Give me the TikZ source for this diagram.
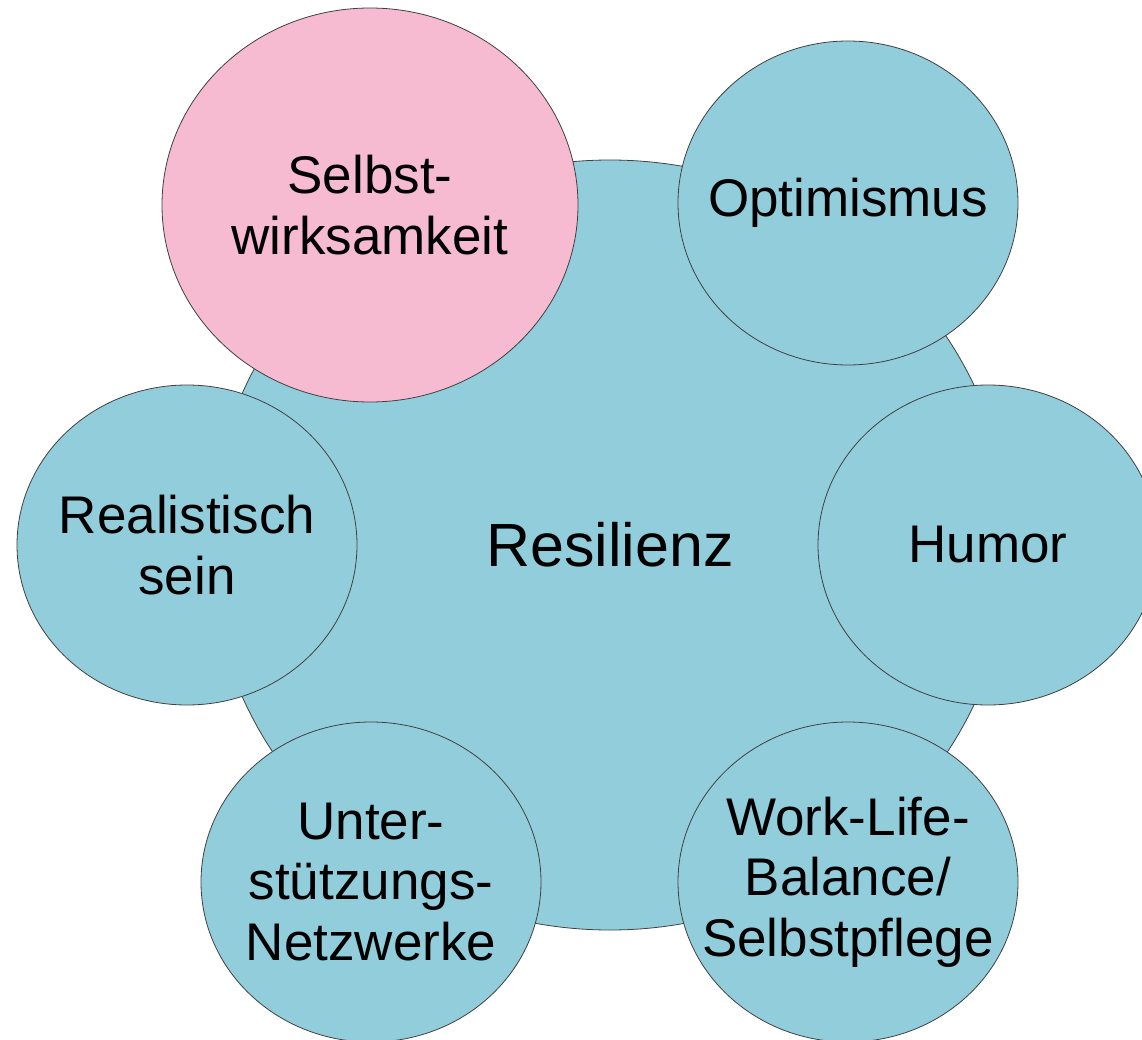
\documentclass[tikz,border=0pt]{standalone}
\usepackage{fontspec}
\setmainfont{Liberation Sans}
\usetikzlibrary{shapes.geometric}
\definecolor{resblue}{RGB}{146,205,220}
\definecolor{respink}{RGB}{246,187,209}
\tikzset{
  factor/.style={ellipse, draw=black!75, line width=0.8pt, fill=resblue, inner sep=0pt},
  factortext/.style={align=center, inner sep=0pt, font=\fontsize{53}{60.5}\selectfont},
}
\begin{document}
\begin{tikzpicture}[x=1pt,y=-1pt]
    \clip (0,0) rectangle (1142,1040);
    % centre
    \node[factor, minimum width=800pt, minimum height=770pt] (res) at (610,545) {};
    \node[factortext, font=\fontsize{61}{70}\selectfont] (res-t) at (res) {Resilienz};
    % factors around it
    \node[factor, fill=respink, minimum width=416pt, minimum height=394pt] (selbst) at (370,205) {};
    \node[factortext] (selbst-t) at (selbst) {Selbst-\\wirksamkeit};
    \node[factor, minimum width=340pt, minimum height=324pt] (optim) at (848,203) {};
    \node[factortext] (optim-t) at (optim) {Optimismus};
    \node[factor, minimum width=340pt, minimum height=320pt] (real) at (187,545) {};
    \node[factortext] (real-t) at (real) {Realistisch\\sein};
    \node[factor, minimum width=340pt, minimum height=320pt] (humor) at (988,545) {};
    \node[factortext] (humor-t) at (humor) {Humor};
    \node[factor, minimum width=340pt, minimum height=320pt] (netz) at (371,882) {};
    \node[factortext] (netz-t) at (netz) {Unter-\\stützungs-\\Netzwerke};
    \node[factor, minimum width=340pt, minimum height=320pt] (balance) at (848,882) {};
    \node[factortext] (balance-t) at (balance) {Work-Life-\\Balance/\\Selbstpflege};
\end{tikzpicture}
\end{document}
